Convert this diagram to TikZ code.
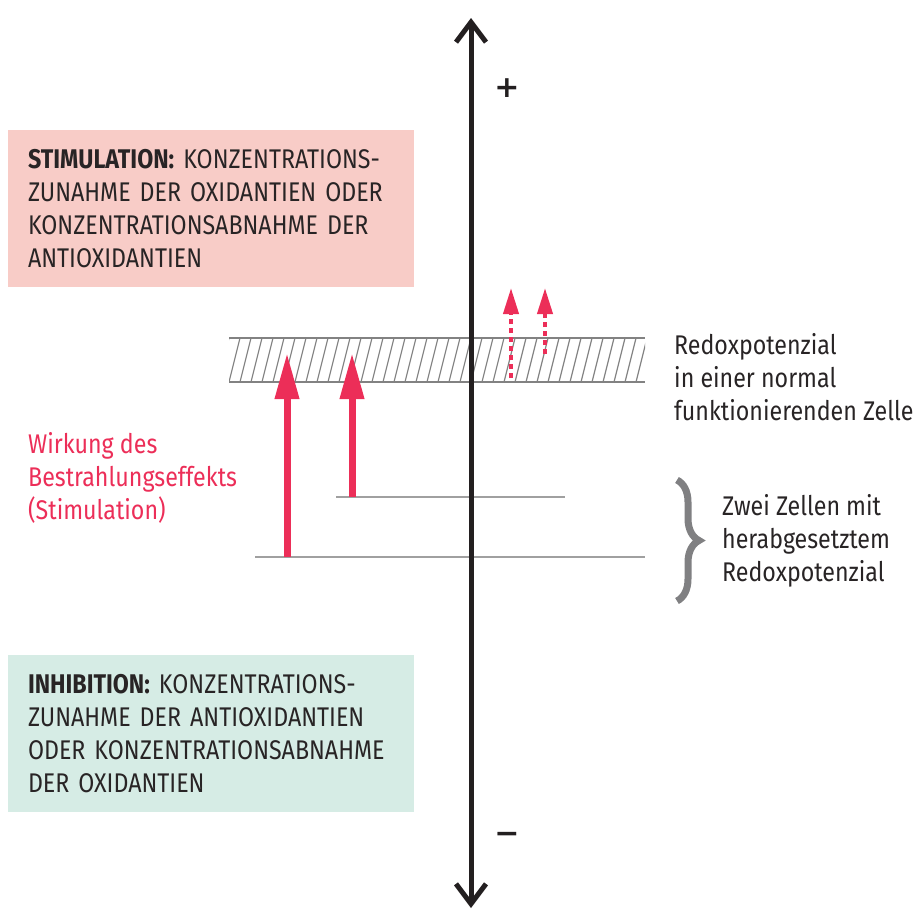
\documentclass[tikz,border=0pt]{standalone}
\usepackage{fontspec}
\setmainfont{Fira Sans}[FakeStretch=0.86]
\newfontfamily\signfont{DejaVu Sans}
\usepackage{xcolor}
\usepackage{tikz}
\usetikzlibrary{positioning, arrows.meta, decorations.pathreplacing}

\definecolor{stimred}{RGB}{236,46,88}
\definecolor{stimbg}{RGB}{248,204,199}
\definecolor{inhibbg}{RGB}{214,236,229}
\definecolor{axisblack}{RGB}{35,31,32}
\definecolor{levelgray}{RGB}{160,160,160}
\definecolor{hatchgray}{RGB}{130,130,130}
\definecolor{bracegray}{RGB}{128,128,130}
\definecolor{textdark}{RGB}{40,36,37}

\tikzset{
  bodyfont/.style={font=\fontsize{27}{33}\selectfont},
  infobox/.style={bodyfont, minimum width=406pt, minimum height=157pt,
    text width=366pt, inner xsep=20pt, align=left, text=textdark},
  sidelabel/.style={bodyfont, anchor=north west, align=left, inner sep=0pt, text=textdark},
  signlabel/.style={font=\signfont\bfseries\fontsize{30}{30}\selectfont, text=axisblack},
  effectarrow/.style={stimred, line width=7pt, -{Triangle[length=46pt, width=23pt]}},
  shiftarrow/.style={stimred, line width=4pt, dash pattern=on 5pt off 4pt,
    -{Triangle[length=26pt, width=15pt]}},
  levelline/.style={levelgray, line width=2pt},
  hatchline/.style={hatchgray, line width=1.2pt},
  axisline/.style={axisblack, line width=5pt,
    {Straight Barb[length=20pt, width=30pt]}-{Straight Barb[length=20pt, width=30pt]}},
}

\begin{document}
\begin{tikzpicture}[x=1pt, y=-1pt]
  \useasboundingbox (0,0) rectangle (916,913);

  % info boxes
  \node[infobox, fill=stimbg] (stim) at (211,208.5)
    {{\bfseries STIMULATION:} KONZENTRATIONS-\\ZUNAHME DER OXIDANTIEN ODER\\KONZENTRATIONSABNAHME DER\\ANTIOXIDANTIEN};
  \node[infobox, fill=inhibbg] (inhib) at (211,733.5)
    {{\bfseries INHIBITION:} KONZENTRATIONS-\\ZUNAHME DER ANTIOXIDANTIEN\\ODER KONZENTRATIONSABNAHME\\DER OXIDANTIEN};

  % normal band
  \begin{scope}
    \clip (229,338) rectangle (645,382);
    \foreach \x in {218,229,...,650} {
      \draw[hatchline] (\x,382) -- (\x+11,338);
    }
  \end{scope}
  \coordinate (bandtl) at (229,338);
  \coordinate (bandtr) at (645,338);
  \coordinate (bandbl) at (229,382);
  \coordinate (bandbr) at (645,382);
  \draw[hatchline, line width=1.6pt] (bandtl) -- (bandtr);
  \draw[hatchline, line width=1.6pt] (bandbl) -- (bandbr);

  % lowered levels
  \coordinate (lowA) at (255,557);
  \coordinate (lowAend) at (645,557);
  \coordinate (lowB) at (336,497);
  \coordinate (lowBend) at (565,497);
  \draw[levelline] (lowA) -- (lowAend);
  \draw[levelline] (lowB) -- (lowBend);

  % axis
  \coordinate (axbot) at (471,908);
  \coordinate (axtop) at (471,18);
  \draw[axisline] (axbot) -- (axtop);
  \node[signlabel] (plus) at (507,88) {+};
  \node[signlabel] (minus) at (507,838) {−};

  % effect arrows
  \coordinate (cellA) at (287,557);
  \coordinate (cellAtop) at (287,353);
  \coordinate (cellB) at (352,497);
  \coordinate (cellBtop) at (352,353);
  \draw[effectarrow] (cellA) -- (cellAtop);
  \draw[effectarrow] (cellB) -- (cellBtop);

  \coordinate (shiftA) at (511,378);
  \coordinate (shiftAtop) at (511,288);
  \coordinate (shiftB) at (545,354);
  \coordinate (shiftBtop) at (545,288);
  \draw[shiftarrow] (shiftA) -- (shiftAtop);
  \draw[shiftarrow] (shiftB) -- (shiftBtop);

  % labels
  \node[sidelabel, text=stimred] (effect) at (28,432)
    {Wirkung des\\Bestrahlungseffekts\\(Stimulation)};
  \node[sidelabel] (normal) at (674,333)
    {Redoxpotenzial\\in einer normal\\funktionierenden Zelle};

  \coordinate (brtop) at (677,480);
  \coordinate (brbot) at (677,601);
  \draw[bracegray, line width=7pt, decorate, decoration={brace, amplitude=22pt}] (brtop) -- (brbot);
  \node[sidelabel] (lowered) at (722,494)
    {Zwei Zellen mit\\herabgesetztem\\Redoxpotenzial};
\end{tikzpicture}
\end{document}
